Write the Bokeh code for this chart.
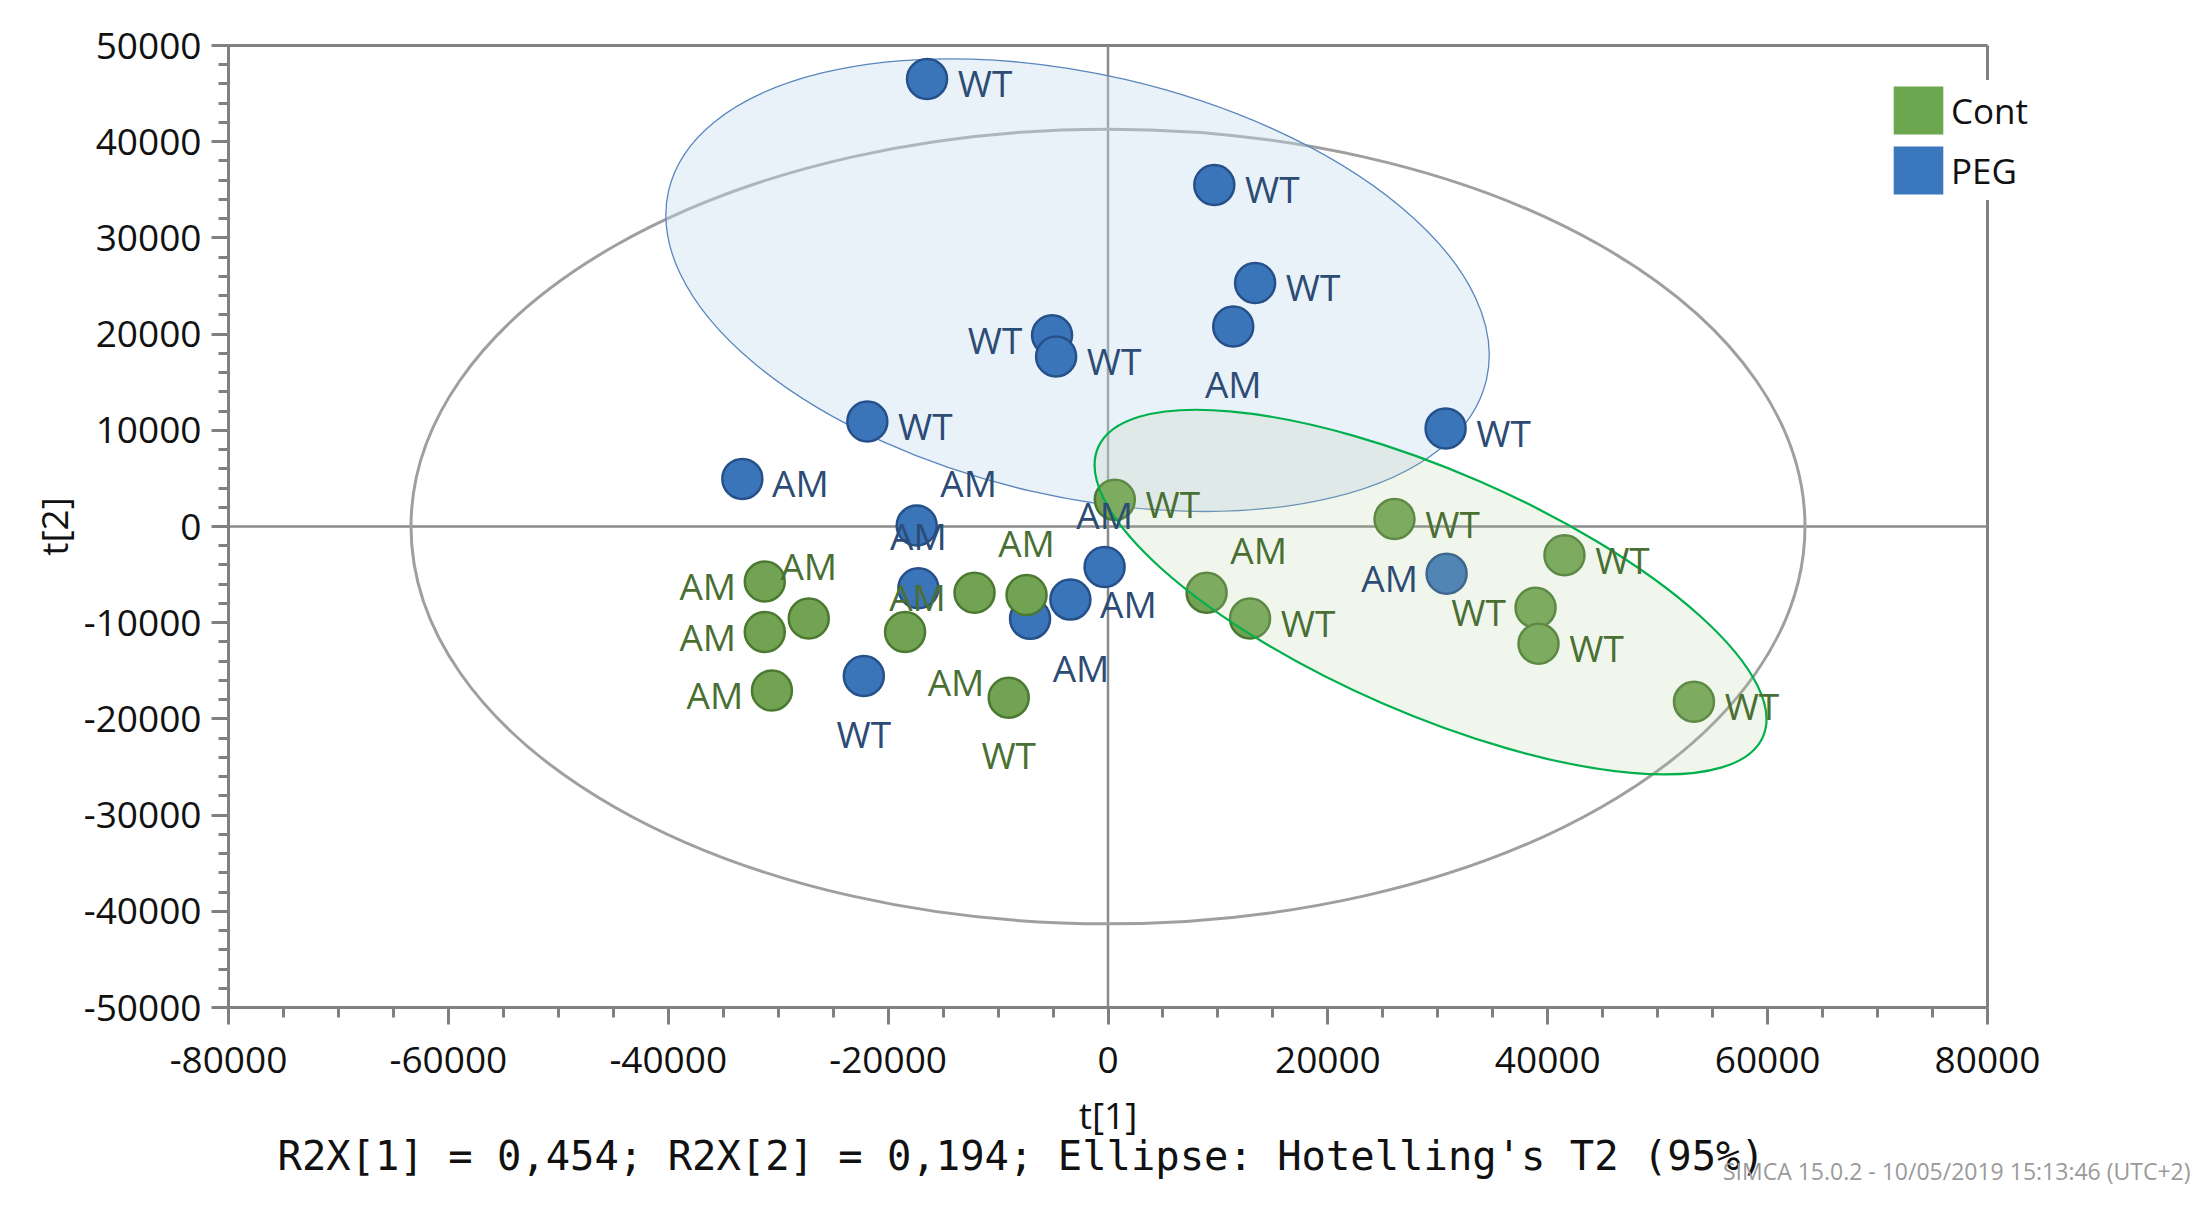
import numpy as np
from bokeh.plotting import figure
from bokeh.models import Range1d, FixedTicker, Label, Legend, LegendItem, ColumnDataSource
from bokeh.core.properties import value
from bokeh.embed import file_html
from bokeh.resources import INLINE

# ---------------- data ----------------
peg_t1 = [-16460, 9670, 13380, 11390, -5090, -4720, -21890, 30710, -33260,
          -17400, -17250, -7090, -3420, -310, -22210, 30800]
peg_t2 = [46520, 35500, 25320, 20790, 19870, 17680, 10920, 10200, 4950,
          100, -6420, -9600, -7600, -4220, -15550, -4900]
peg_lab = ["WT", "WT", "WT", "AM", "WT", "WT", "WT", "WT", "AM",
           "AM", "AM", "AM", "AM", "AM", "WT", "AM"]
peg_pos = ["r", "r", "r", "b", "l", "r", "r", "r", "r",
           "ur", "a", "lr", "r", "a", "b", "l"]

cont_t1 = [620, 26060, 41520, 38890, 39160, 53300, 8970, 12920, -31220,
           -27220, -31220, -30570, -18460, -12140, -7410, -9030]
cont_t2 = [2770, 770, -2980, -8440, -12180, -18220, -6890, -9560, -5720,
           -9560, -10970, -17050, -10970, -6890, -7130, -17800]
cont_lab = ["WT", "WT", "WT", "WT", "WT", "WT", "AM", "WT", "AM",
            "AM", "AM", "AM", "AM", "AM", "AM", "WT"]
cont_pos = ["r", "r", "r", "l", "r", "r", "ur", "r", "l",
            "a", "l", "l", "lr", "l", "a", "b"]

group_names = ["Cont", "PEG"]

x_min, x_max = -80000, 80000
y_min, y_max = -50000, 50000
x_ticks = [-80000, -60000, -40000, -20000, 0, 20000, 40000, 60000, 80000]
x_tick_labels = ["-80000", "-60000", "-40000", "-20000", "0", "20000", "40000", "60000", "80000"]
y_ticks = [-50000, -40000, -30000, -20000, -10000, 0, 10000, 20000, 30000, 40000, 50000]
y_tick_labels = ["-50000", "-40000", "-30000", "-20000", "-10000", "0",
                 "10000", "20000", "30000", "40000", "50000"]

# Hotelling's T2 (95%) ellipse
t2_center = (0, 0)
t2_width, t2_height = 126800, 82640
# group ellipses
peg_ell_center = (-2770, 25090)
peg_ell_width, peg_ell_height, peg_ell_angle = 76350, 43890, -13.0
cont_ell_center = (29340, -6820)
cont_ell_width, cont_ell_height, cont_ell_angle = 65950, 25190, -23.5

x_title = "t[1]"
y_title = "t[2]"
footer_text = "R2X[1] = 0,454; R2X[2] = 0,194; Ellipse: Hotelling's T2 (95%)"
stamp_text = "SIMCA 15.0.2 - 10/05/2019 15:13:46 (UTC+2)"

# ---------------- layout / style ----------------
FIG_W, FIG_H = 2194, 1190
PLOT_L, PLOT_R, PLOT_T, PLOT_B = 228, 1987, 45, 1007   # pixel box of the t1/t2 axes
x_per_px = (x_max - x_min) / (PLOT_R - PLOT_L)
y_per_px = (y_max - y_min) / (PLOT_B - PLOT_T)
x_start = x_min - PLOT_L * x_per_px
x_end = x_max + (FIG_W - PLOT_R) * x_per_px
y_start = y_min - (FIG_H - PLOT_B) * y_per_px
y_end = y_max + PLOT_T * y_per_px

BLUE_FILL, BLUE_LINE, BLUE_TEXT = "#3b75b9", "#25508a", "#2c4b75"
GREEN_FILL, GREEN_LINE, GREEN_TEXT = "#71a352", "#4b7931", "#4a6f33"
GRAY = "#808080"
FONT = "Open Sans"

offsets = {"r": (58, 4), "l": (-57, 4), "a": (0, -53), "b": (0, 57),
           "ur": (52, -43), "lr": (51, 49)}

p = figure(width=FIG_W, height=FIG_H,
           x_range=Range1d(x_start, x_end), y_range=Range1d(y_start, y_end),
           output_backend="svg", toolbar_location=None, min_border=0,
           background_fill_color="white", border_fill_color="white",
           outline_line_color=None)
p.xgrid.visible = False
p.ygrid.visible = False

for ax, ticks, labels, minor, bnds in (
        (p.xaxis[0], x_ticks, x_tick_labels, list(np.arange(x_min, x_max + 1, 5000)), (x_min, x_max)),
        (p.yaxis[0], y_ticks, y_tick_labels, list(np.arange(y_min, y_max + 1, 2000)), (y_min, y_max))):
    ax.ticker = FixedTicker(ticks=ticks, minor_ticks=minor)
    ax.bounds = bnds
    ax.major_label_overrides = {t: l for t, l in zip(ticks, labels)}
    ax.axis_line_color = GRAY
    ax.axis_line_width = 3
    ax.major_tick_line_color = GRAY
    ax.major_tick_line_width = 3
    ax.minor_tick_line_color = GRAY
    ax.minor_tick_line_width = 3
    ax.major_tick_in = 0
    ax.major_tick_out = 17
    ax.minor_tick_in = 0
    ax.minor_tick_out = 10
    ax.major_label_text_font = FONT
    ax.major_label_text_font_size = "37px"
    ax.major_label_text_color = "#111111"
    ax.axis_label_text_font = FONT
    ax.axis_label_text_font_size = "37px"
    ax.axis_label_text_font_style = "normal"
    ax.axis_label_text_color = "#111111"

p.xaxis.fixed_location = y_min
p.yaxis.fixed_location = x_min
p.xaxis.axis_label = x_title
p.yaxis.axis_label = y_title
p.xaxis.major_label_standoff = 22
p.xaxis.axis_label_standoff = 13
p.yaxis.major_label_standoff = 10
p.yaxis.axis_label_standoff = 2

# box border (top and right) and zero lines
p.segment(x0=[x_min, x_max], y0=[y_max, y_min], x1=[x_max, x_max], y1=[y_max, y_max],
          line_color=GRAY, line_width=3)
p.segment(x0=[x_min, 0], y0=[0, y_min], x1=[x_max, 0], y1=[0, y_max],
          line_color="#8a8a8a", line_width=2.5)

# Hotelling ellipse
p.ellipse(x=[t2_center[0]], y=[t2_center[1]], width=[t2_width], height=[t2_height],
          fill_color=None, line_color="#9f9f9f", line_width=3)

# PEG ellipse (under the points)
p.ellipse(x=[peg_ell_center[0]], y=[peg_ell_center[1]], width=[peg_ell_width],
          height=[peg_ell_height], angle=[peg_ell_angle], angle_units="deg",
          fill_color="#c5daf0", fill_alpha=0.38, line_color="#5a86bd", line_width=1.3)

# points
p.scatter(x=peg_t1, y=peg_t2, size=40, fill_color=BLUE_FILL, line_color=BLUE_LINE, line_width=2.5)
p.scatter(x=cont_t1, y=cont_t2, size=40, fill_color=GREEN_FILL, line_color=GREEN_LINE, line_width=2.5)

# Cont ellipse (over the points, translucent)
p.ellipse(x=[cont_ell_center[0]], y=[cont_ell_center[1]], width=[cont_ell_width],
          height=[cont_ell_height], angle=[cont_ell_angle], angle_units="deg",
          fill_color="#b2d19d", fill_alpha=0.19, line_color="#00b04c", line_width=2.2)

# point labels
for xs, ys, labs, pos, col in ((peg_t1, peg_t2, peg_lab, peg_pos, BLUE_TEXT),
                               (cont_t1, cont_t2, cont_lab, cont_pos, GREEN_TEXT)):
    src = ColumnDataSource(dict(x=xs, y=ys, t=labs,
                                dx=[offsets[k][0] for k in pos],
                                dy=[offsets[k][1] for k in pos]))
    p.text(x="x", y="y", text="t", x_offset="dx", y_offset="dy", source=src,
           text_font=value(FONT), text_font_size=value("37px"), text_color=col,
           text_align="center", text_baseline="middle")

# legend (filled squares); the quads only carry the legend colours
r_cont = p.quad(left=[np.nan], right=[np.nan], bottom=[np.nan], top=[np.nan],
                fill_color="#6ca64f", line_color=None)
r_peg = p.quad(left=[np.nan], right=[np.nan], bottom=[np.nan], top=[np.nan],
               fill_color="#3a77bd", line_color=None)
legend = Legend(items=[LegendItem(label=group_names[0], renderers=[r_cont]),
                       LegendItem(label=group_names[1], renderers=[r_peg])],
                location=(1887, FIG_H - 200), glyph_width=62, glyph_height=60,
                spacing=0, padding=20, label_standoff=2, label_text_font=FONT,
                label_text_font_size="35px", label_text_color="#111111",
                background_fill_color="white", background_fill_alpha=1.0,
                border_line_color=None)
p.add_layout(legend)

# footer texts (screen units, from the frame's bottom-left corner)
p.add_layout(Label(x=277, y=FIG_H - 1155, x_units="screen", y_units="screen",
                   text=footer_text, text_font="DejaVu Sans Mono", text_font_size="40.5px",
                   text_color="#111111", text_align="left", text_baseline="middle"))
p.add_layout(Label(x=FIG_W - 4, y=FIG_H - 1170, x_units="screen", y_units="screen",
                   text=stamp_text, text_font=FONT, text_font_size="23px", text_color="#9a9a9a",
                   text_align="right", text_baseline="middle"))

open("out.html", "w").write(file_html(p, INLINE))
